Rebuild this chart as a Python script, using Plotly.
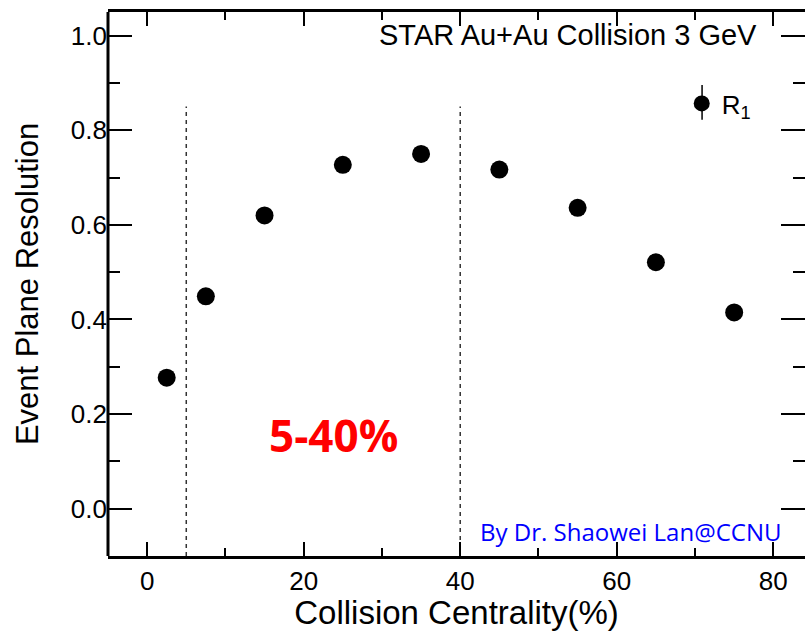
import plotly.graph_objects as go

centrality = [2.5, 7.5, 15, 25, 35, 45, 55, 65, 75]
resolution = [0.277, 0.449, 0.620, 0.727, 0.750, 0.717, 0.636, 0.521, 0.415]
cut_edges = [5, 40]
cut_top = 0.85
x_range = [-5, 84.05]
y_range = [-0.1, 1.05]

AX_FONT = "Liberation Sans, Arial, sans-serif"

fig = go.Figure()
fig.add_trace(go.Scatter(
    x=centrality, y=resolution, mode="markers",
    marker=dict(size=18, color="black"),
    name="R<sub>1</sub>", showlegend=True,
))

for xe in cut_edges:
    fig.add_shape(type="line", xref="x", yref="y", x0=xe, x1=xe,
                  y0=y_range[0], y1=cut_top, layer="below",
                  line=dict(color="#333333", width=1.5, dash="4px,4px"))

# left frame line (right side has ticks only)
fig.add_shape(type="line", xref="paper", yref="paper",
              x0=0, x1=0, y0=0, y1=1,
              line=dict(color="black", width=3))

# legend error-bar tick
fig.add_shape(type="line", xref="x", yref="paper",
              x0=70.9, x1=70.9, y0=0.802, y1=0.866,
              line=dict(color="black", width=1.5))

common_ticks = dict(ticks="inside", tickwidth=2, tickcolor="black",
                    tickfont=dict(family=AX_FONT, size=26, color="black"),
                    showgrid=False, zeroline=False, automargin=False)

fig.update_layout(
    width=811, height=631,
    margin=dict(l=108, r=6, t=12, b=75),
    paper_bgcolor="white", plot_bgcolor="white",
    xaxis=dict(range=x_range, dtick=20, tick0=0, ticklen=14,
               showline=True, linewidth=3, linecolor="black", mirror="ticks",
               minor=dict(dtick=10, tick0=0, ticks="inside", ticklen=8,
                          tickwidth=2, tickcolor="black"),
               title=dict(text="Collision Centrality(%)",
                          font=dict(family=AX_FONT, size=33, color="black"),
                          standoff=3),
               **common_ticks),
    yaxis=dict(range=y_range, dtick=0.2, tick0=0, ticklen=24,
               tickformat=".1f",
               showline=False, mirror="ticks",
               minor=dict(dtick=0.1, tick0=0, ticks="inside", ticklen=12,
                          tickwidth=2, tickcolor="black"),
               title=dict(text="Event Plane Resolution",
                          font=dict(family=AX_FONT, size=31, color="black"),
                          standoff=22),
               **common_ticks),
    legend=dict(x=0.0, y=0.875, xanchor="left", yanchor="top",
                bgcolor="rgba(0,0,0,0)",
                font=dict(family=AX_FONT, size=26, color="black")),
)
# place legend relative to the x scale
fig.update_layout(legend=dict(x=(70.9 - 2.6 - x_range[0]) / (x_range[1] - x_range[0])))

fig.add_annotation(text="STAR Au+Au Collision 3 GeV", xref="x", yref="paper",
                   x=78.2, y=0.958, xanchor="right", yanchor="middle",
                   showarrow=False,
                   font=dict(family=AX_FONT, size=29, color="black"))
fig.add_annotation(text="<b>5-40%</b>", xref="x", yref="y",
                   x=23.8, y=0.155, xanchor="center", yanchor="middle",
                   showarrow=False,
                   font=dict(family="Open Sans, sans-serif", size=44, color="#FF0000"))
fig.add_annotation(text="By Dr. Shaowei Lan@CCNU", xref="x", yref="paper",
                   x=81.3, y=0.045, xanchor="right", yanchor="middle",
                   showarrow=False,
                   font=dict(family="Open Sans, sans-serif", size=24, color="#0000FF"))

fig.write_html("out.html")
